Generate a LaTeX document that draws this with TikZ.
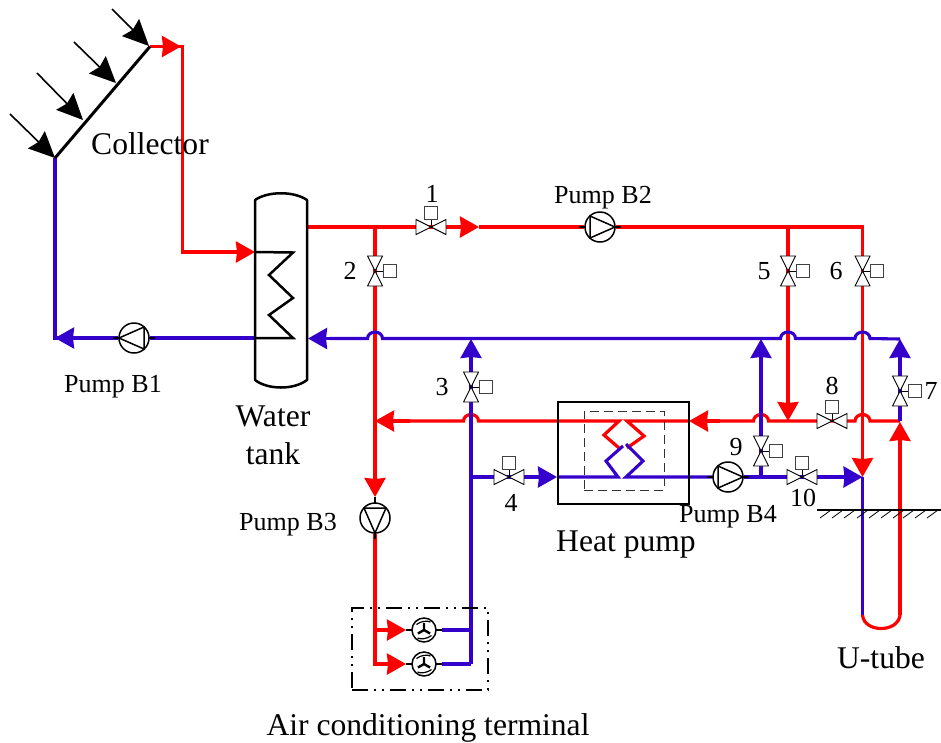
\documentclass[tikz,border=0pt]{standalone}
\usepackage{fontspec}
\setmainfont{Liberation Serif}
\usetikzlibrary{arrows.meta,backgrounds,shapes.geometric}
\definecolor{pipered}{HTML}{FF0000}
\definecolor{pipeblue}{HTML}{3300CC}
\tikzset{
  redpipe/.style={draw=pipered,line width=3.2pt,line join=miter},
  bluepipe/.style={draw=pipeblue,line width=3.1pt,line join=miter},
  tipped/.style={-{Stealth[length=19pt,width=21pt,inset=1pt]}},
  blackline/.style={draw=black,line width=2.5pt},
  thinline/.style={draw=black,line width=0.9pt},
  pumpbody/.style={circle,draw=black,line width=1.5pt,fill=white,minimum size=30pt,inner sep=0pt},
  fanbody/.style={circle,draw=black,line width=1.5pt,fill=white,minimum size=24pt,inner sep=0pt},
  actuator/.style={draw=black!75,line width=1pt,fill=white,minimum size=13pt,inner sep=0pt,rectangle},
  lab/.style={inner sep=0pt,font=\fontsize{26}{26}\selectfont},
  biglab/.style={inner sep=0pt,font=\fontsize{31.6}{31.6}\selectfont},
  sunray/.style={draw=black,line width=1.6pt,-{Stealth[length=26pt,width=24pt,inset=3pt]}},
  junction/.style={coordinate}
}
\newcommand{\pumpsym}[4]{%
  \node[pumpbody] (#1) at (#2,#3) {};
  \begin{scope}[shift={(#1.center)},rotate=#4]
    \draw[line width=1.5pt,line join=miter] (-10,-11) -- (15,0) -- (-10,11) -- cycle;
    \draw[line width=1.6pt] (-21,0) -- (-15,0) (15,0) -- (21,0);
  \end{scope}}
\newcommand{\valvesym}[4]{%
  \node[junction] (#1) at (#2,#3) {};
  \begin{scope}[shift={(#1)},rotate=#4]
    \draw[thinline,fill=white,line join=miter] (-15,-7.5) -- (15,7.5) -- (15,-7.5) -- (-15,7.5) -- cycle;
    \draw[thinline] (0,0) -- (0,-8);
    \node[actuator] (#1a) at (0,-14.5) {};
  \end{scope}}
\newcommand{\fansym}[4]{%
  \node[fanbody] (#1) at (#2,#3) {};
  \begin{scope}[shift={(#1.center)}]
    \draw[line width=1.2pt] (-7.5,-5.5) .. controls (-3,-9) and (3,-9.5) .. (6.5,-8);
    \draw[line width=1.2pt] (7.5,5.5) .. controls (3,9) and (-3,9.5) .. (-6.5,8);
    \draw[line width=2.4pt] (0,0) -- (#4:7) (0,0) -- (#4+120:7) (0,0) -- (#4+240:7);
    \draw[line width=1.5pt] (-18,0) -- (-12,0) (12,0) -- (18,0);
  \end{scope}}
\begin{document}
\begin{tikzpicture}[x=1pt,y=-1pt]
\useasboundingbox (0,0) rectangle (941,742);
% free coordinates
\coordinate (colB) at (55,158);
\coordinate (colT) at (150,46.5);
\coordinate (colArrow) at (181,46.5);
\coordinate (colCorner) at (182.5,46.5);
\coordinate (tankInCorner) at (182.5,252);
\coordinate (tankIn) at (255,252);
\coordinate (tankOutL) at (255,338);
\coordinate (b1End) at (55,338);
\coordinate (tankHot) at (307,227);
\coordinate (tee2) at (375,227);
\coordinate (arrow1) at (479,227);
\coordinate (tee5) at (788,227);
\coordinate (corner6) at (862.5,227);
\coordinate (tee10) at (862.5,477);
\coordinate (utL) at (862.5,615);
\coordinate (utR) at (900,615);
\coordinate (tee7) at (900,421);
\coordinate (top7) at (900,339);
\coordinate (hpRedL) at (558,421);
\coordinate (hpRedR) at (689,421);
\coordinate (tee3) at (375,421);
\coordinate (tee4) at (471,477);
\coordinate (top3) at (471,339);
\coordinate (top9) at (761,339);
\coordinate (tee9) at (761,477);
\coordinate (tee8) at (788,421);
\coordinate (hpIn) at (557,477);
\coordinate (fan1R) at (471,630);
\coordinate (fan2R) at (471,664);
\coordinate (fan1L) at (375,630);
\coordinate (fan2L) at (375,664);

% equipment
\pumpsym{pb1}{134}{338}{180}
\pumpsym{pb2}{600}{227}{0}
\pumpsym{pb3}{375}{518}{-90}
\pumpsym{pb4}{728}{477}{0}
\valvesym{v1}{431}{227}{0}
\valvesym{v2}{375}{271}{-90}
\valvesym{v3}{471}{387}{-90}
\valvesym{v4}{509}{477}{0}
\valvesym{v5}{788}{271}{-90}
\valvesym{v6}{862.5}{271}{-90}
\valvesym{v7}{900}{391}{-90}
\valvesym{v8}{832}{421}{0}
\valvesym{v9}{761}{451}{-90}
\valvesym{v10}{802}{477}{0}
\fansym{fan1}{424}{630}{-90}
\fansym{fan2}{424}{664}{-90}

% collector and sun rays
\draw[blackline,line width=3pt] (colB) -- (colT);
\coordinate (ray1) at (10,114);  \coordinate (ray1e) at (55,158);
\coordinate (ray2) at (37,73);   \coordinate (ray2e) at (83,120);
\coordinate (ray3) at (74,42);   \coordinate (ray3e) at (116,83);
\coordinate (ray4) at (112,9);   \coordinate (ray4e) at (149,46);
\draw[sunray] (ray1) -- (ray1e);
\draw[sunray] (ray2) -- (ray2e);
\draw[sunray] (ray3) -- (ray3e);
\draw[sunray] (ray4) -- (ray4e);

% water tank
\node[inner sep=0pt,minimum width=52pt,minimum height=180pt] (tank) at (281,290) {};
\draw[blackline,line join=round] (255,200) .. controls (268,191) and (294,191) .. (307,200)
  -- (307,380) .. controls (294,390) and (268,390) .. (255,380) -- cycle;
\draw[blackline,line join=miter] (tankIn) -- (293,252.5) -- (269,275) -- (293,298) -- (269,315) -- (293,338) -- (tankOutL);

% heat pump
\node[draw=black,line width=1.7pt,minimum width=131pt,minimum height=102pt,inner sep=0pt] (hp) at (623.5,453) {};
\node[draw=black!80,line width=0.9pt,dash pattern=on 9pt off 5pt,minimum width=80pt,minimum height=79pt,inner sep=0pt] (hpin) at (624,450.5) {};

% air conditioning terminal box
\node[draw=black,line width=1.7pt,dash pattern=on 16pt off 6pt on 2pt off 6pt on 2pt off 6pt,minimum width=136pt,minimum height=82pt,inner sep=0pt] (act) at (420,649) {};

% ground
\coordinate (gndL) at (817,510);
\coordinate (gndR) at (941,510);
\draw[black,line width=1.6pt] (gndL) -- (gndR);
\foreach \hx in {831,843,855,868,880,892,904,914,926,938}
  \draw[black,line width=0.8pt] (\hx,510) -- (\hx-11,518);

% pipes
\begin{pgfonlayer}{background}
  % red
  \draw[redpipe,tipped] (colT) -- (colArrow);
  \draw[redpipe] (colT) -- (colCorner) -- (tankInCorner) -- (200,252);
  \draw[redpipe,tipped] (200,252) -- (tankIn);
  \draw[redpipe] (tankHot) -- (tee2) -- (v1);
  \draw[redpipe,tipped] (v1) -- (arrow1);
  \draw[redpipe] (arrow1) -- (pb2);
  \draw[redpipe] (pb2) -- (tee5) -- (corner6) -- (v6) -- (862.5,458);
  \draw[redpipe,tipped] (862.5,450) -- (tee10);
  \draw[redpipe] (tee5) -- (v5) -- (tee8|-0,395);
  \draw[redpipe,tipped] (tee8|-0,395) -- (tee8);
  \draw[redpipe] (tee2) -- (v2) -- (tee3) -- (375,480);
  \draw[redpipe,tipped] (375,480) -- (375,497);
  \draw[redpipe] (pb3) -- (fan2L) -- (398,664);
  \draw[redpipe,tipped] (fan2L) -- (406,664);
  \draw[redpipe,tipped] (fan1L) -- (406,630);
  % red return row with crossing arcs
  \draw[redpipe] (utR) -- (900,442);
  \draw[redpipe,tipped] (900,450) -- (900,422);
  \draw[redpipe] (tee7) -- (870,421) arc[start angle=0,end angle=180,x radius=7.5pt,y radius=6.5pt]
     -- (v8) -- (768.5,421) arc[start angle=0,end angle=180,x radius=7.5pt,y radius=6.5pt] -- (712,421);
  \draw[redpipe,tipped] (720,421) -- (hpRedR);
  \draw[redpipe] (hpRedR) -- (627,421) -- (644,436) -- (627,448);
  \draw[redpipe] (hpRedL) -- (619,421) -- (604,435) -- (619,448);
  \draw[redpipe] (hpRedL) -- (478.5,421) arc[start angle=0,end angle=180,x radius=7.5pt,y radius=6.5pt] -- (400,421);
  \draw[redpipe,tipped] (410,421) -- (tee3);
  % U-tube bottom
  \draw[redpipe,line cap=round] (utL) .. controls (864,633) and (898,633) .. (utR);
  % blue
  \draw[bluepipe] (colB) -- (b1End) -- (80,338);
  \draw[bluepipe,tipped] (pb1) -- (b1End);
  \draw[bluepipe] (tankOutL) -- (pb1);
  \draw[bluepipe] (top7) -- (870,338.5) arc[start angle=0,end angle=180,x radius=7.5pt,y radius=6.5pt]
     -- (795.5,338.5) arc[start angle=0,end angle=180,x radius=7.5pt,y radius=6.5pt]
     -- (382.5,338.5) arc[start angle=0,end angle=180,x radius=7.5pt,y radius=6.5pt] -- (330,338.5);
  \draw[bluepipe,tipped] (335,338.5) -- (308,338.5);
  \draw[bluepipe] (fan1R) -- (442,630);
  \draw[bluepipe] (fan2R) -- (442,664);
  \draw[bluepipe] (fan2R) -- (tee4) -- (v3) -- (top3|-0,365);
  \draw[bluepipe,tipped] (top3|-0,365) -- (top3);
  \draw[bluepipe] (tee4) -- (v4) -- (535,477);
  \draw[bluepipe,tipped] (530,477) -- (hpIn);
  \draw[bluepipe] (hpIn) -- (618,477) -- (606,461) -- (623,446);
  \draw[bluepipe] (626,444) -- (643,461) -- (626,477) -- (pb4);
  \draw[bluepipe] (pb4) -- (v10) -- (835,477);
  \draw[bluepipe,tipped] (830,477) -- (tee10);
  \draw[bluepipe] (tee9) -- (v9) -- (top9|-0,365);
  \draw[bluepipe,tipped] (top9|-0,365) -- (top9);
  \draw[bluepipe] (tee10) -- (utL);
  \draw[bluepipe] (tee7) -- (v7) -- (900,365);
  \draw[bluepipe,tipped] (900,365) -- (top7);
\end{pgfonlayer}

% labels
\node[biglab] (tCollector) at (150,144) {Collector};
\node[lab] (tB1) at (113,387) {Pump B1};
\node[biglab] (tWater) at (273,416) {Water};
\node[biglab] (tTank) at (273,454) {tank};
\node[lab] (t1) at (432,194) {1};
\node[lab] (tB2) at (603,198) {Pump B2};
\node[lab] (t2) at (350,271) {2};
\node[lab] (t3) at (442,387) {3};
\node[lab] (t4) at (511,503) {4};
\node[lab] (t5) at (764,271) {5};
\node[lab] (t6) at (836,271) {6};
\node[lab] (t7) at (931,391) {7};
\node[lab] (t8) at (832,386) {8};
\node[lab] (t9) at (736,447) {9};
\node[lab] (t10) at (803,498) {10};
\node[lab] (tB3) at (288,525) {Pump B3};
\node[lab] (tB4) at (728,517) {Pump B4};
\node[biglab] (tHP) at (626,545) {Heat pump};
\node[biglab] (tUt) at (881,658) {U-tube};
\node[biglab] (tAC) at (428,728) {Air conditioning terminal};
\end{tikzpicture}
\end{document}
